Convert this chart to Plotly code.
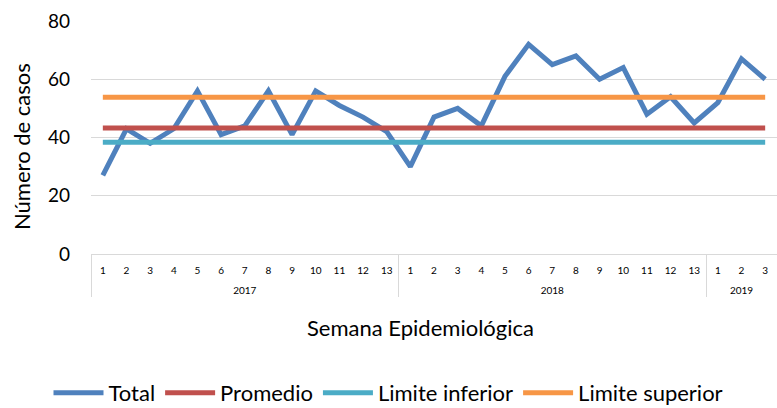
import plotly.graph_objects as go

years = ["2017"] * 13 + ["2018"] * 13 + ["2019"] * 3
weeks = [str(i) for i in range(1, 14)] + [str(i) for i in range(1, 14)] + ["1", "2", "3"]
total = [27, 43, 38, 43, 56, 41, 44, 56, 41, 56, 51, 47, 42,
         30, 47, 50, 44, 61, 72, 65, 68, 60, 64, 48, 54, 45,
         52, 67, 60]
promedio_val = 43.3
lim_inf_val = 38.4
lim_sup_val = 53.8

n = len(total)
promedio = [promedio_val] * n
lim_inf = [lim_inf_val] * n
lim_sup = [lim_sup_val] * n

FONT = "Lato, 'Open Sans', sans-serif"
# extra empty line under each week label pushes the year row lower, as in the reference
week_labels = [w + "<br> " for w in weeks]
x = [years, week_labels]

fig = go.Figure()
fig.add_trace(go.Scatter(x=x, y=total, name="Total", mode="lines",
                         line=dict(color="#4f81bd", width=5)))
fig.add_trace(go.Scatter(x=x, y=promedio, name="Promedio", mode="lines",
                         line=dict(color="#c0504d", width=5)))
fig.add_trace(go.Scatter(x=x, y=lim_inf, name="Limite inferior", mode="lines",
                         line=dict(color="#4bacc6", width=5)))
fig.add_trace(go.Scatter(x=x, y=lim_sup, name="Limite superior", mode="lines",
                         line=dict(color="#f79646", width=5)))

L, R, T, B = 91, 0, 21, 154
W, H = 777, 408
pw = W - L - R
ph = H - T - B

fig.update_layout(
    width=W, height=H,
    margin=dict(l=L, r=R, t=T, b=B, autoexpand=False),
    paper_bgcolor="white", plot_bgcolor="white",
    font=dict(family=FONT, color="#000000"),
    showlegend=True,
    legend=dict(orientation="h", x=0.5, xanchor="center", xref="container",
                y=(T + ph - 372) / ph, yanchor="top", yref="paper",
                font=dict(size=22, family=FONT), traceorder="normal",
                itemwidth=50),
    xaxis=dict(type="multicategory", range=[-0.5, n - 0.5],
               showdividers=True, dividercolor="#d9d9d9",
               dividerwidth=1, tickfont=dict(size=10, family=FONT),
               ticklabelstandoff=7,
               showline=True, linecolor="#d9d9d9", linewidth=1,
               showgrid=False, ticks="", zeroline=False, automargin=False),
    yaxis=dict(range=[0, 80], dtick=20, showgrid=True, gridcolor="#d9d9d9",
               gridwidth=1, tickfont=dict(size=19, family=FONT), zeroline=False,
               ticks="", showline=False, automargin=False, ticklabelstandoff=20),
    annotations=[
        dict(text="Número de casos", x=(21 - L) / pw, xref="paper",
             y=(T + ph - 147) / ph, yref="paper", xanchor="center", yanchor="middle",
             showarrow=False, textangle=-90, font=dict(size=22, family=FONT)),
        dict(text="Semana Epidemiológica", x=(420 - L) / pw, xref="paper",
             y=(T + ph - 327) / ph, yref="paper", xanchor="center", yanchor="middle",
             showarrow=False, font=dict(size=22, family=FONT)),
    ],
)

fig.write_html("out.html", config={"displayModeBar": False})

# remove the default page margin so the figure sits at the window's top-left corner
with open("out.html", "r", encoding="utf-8") as f:
    html = f.read()
html = html.replace("<body>", '<body style="margin:0;padding:0;">', 1)
with open("out.html", "w", encoding="utf-8") as f:
    f.write(html)
